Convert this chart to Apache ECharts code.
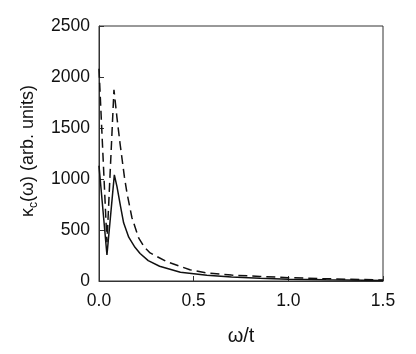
<!DOCTYPE html>
<html><head><meta charset="utf-8">
<script src="https://cdn.jsdelivr.net/npm/echarts@6/dist/echarts.min.js"></script>
<style>html,body{margin:0;padding:0;background:#fff}#c{width:416px;height:354px}</style>
</head><body><div id="c"></div>
<script>
// omega/t values and kappa_c values
const solidX = [0.0, 0.042, 0.081, 0.095, 0.113, 0.13, 0.157, 0.19, 0.217, 0.26, 0.32, 0.43, 0.57, 0.7, 0.85, 1.0, 1.2, 1.5];
const solidY = [1130, 255, 1040, 925, 740, 570, 430, 330, 270, 200, 145, 85, 57, 40, 27, 18, 12, 6];
const dashX = [0.0, 0.042, 0.079, 0.095, 0.111, 0.134, 0.148, 0.174, 0.21, 0.24, 0.27, 0.357, 0.48, 0.57, 0.7, 0.85, 1.0, 1.2, 1.5];
const dashY = [2080, 380, 1875, 1600, 1350, 1023, 860, 620, 420, 330, 275, 190, 110, 78, 58, 45, 33, 22, 10];
const xTicks = [0, 0.5, 1.0, 1.5];
const yTicks = [0, 500, 1000, 1500, 2000, 2500];

const chart = echarts.init(document.getElementById('c'));
const font = 'Liberation Sans, Arial, sans-serif';
chart.setOption({
  animation: false,
  grid: {left: 99, right: 33, top: 26, bottom: 73, show: true, borderColor: '#333', borderWidth: 1},
  xAxis: {
    type: 'value', min: xTicks[0], max: xTicks[xTicks.length - 1], interval: 0.5,
    axisLine: {show: true, lineStyle: {color: '#333', width: 1}},
    axisTick: {show: true, inside: true, length: 5, lineStyle: {color: '#333'}},
    splitLine: {show: false},
    axisLabel: {color: '#111', fontSize: 17.5, fontFamily: font, margin: 11, formatter: v => v.toFixed(1)},
    name: 'ω/t', nameLocation: 'middle', nameGap: 45,
    nameTextStyle: {color: '#111', fontSize: 20, fontFamily: font}
  },
  yAxis: {
    type: 'value', min: yTicks[0], max: yTicks[yTicks.length - 1], interval: 500,
    axisLine: {show: true, lineStyle: {color: '#333', width: 1}},
    axisTick: {show: true, inside: true, length: 5, lineStyle: {color: '#333'}},
    splitLine: {show: false},
    axisLabel: {color: '#111', fontSize: 17.5, fontFamily: font, margin: 9, formatter: v => String(v)}
  },
  graphic: [{
    type: 'text', x: 28, y: 151, rotation: Math.PI / 2,
    style: {
      text: '{a|κ}{b|c}{a|(ω) (arb. units)}', align: 'center', verticalAlign: 'middle',
      fill: '#111', font: '18px ' + font,
      rich: {a: {fontSize: 18, fontFamily: font, fill: '#111', lineHeight: 24, verticalAlign: 'middle'},
             b: {fontSize: 12, fontFamily: font, fill: '#111', lineHeight: 24, verticalAlign: 'bottom'}}
    }
  }],
  series: [
    {type: 'line', data: solidX.map((x, i) => [x, solidY[i]]), showSymbol: false, smooth: false,
     lineStyle: {color: '#111', width: 1.5}},
    {type: 'line', data: dashX.map((x, i) => [x, dashY[i]]), showSymbol: false, smooth: false,
     lineStyle: {color: '#111', width: 1.5, type: [9, 5]}}
  ]
});
</script></body></html>
